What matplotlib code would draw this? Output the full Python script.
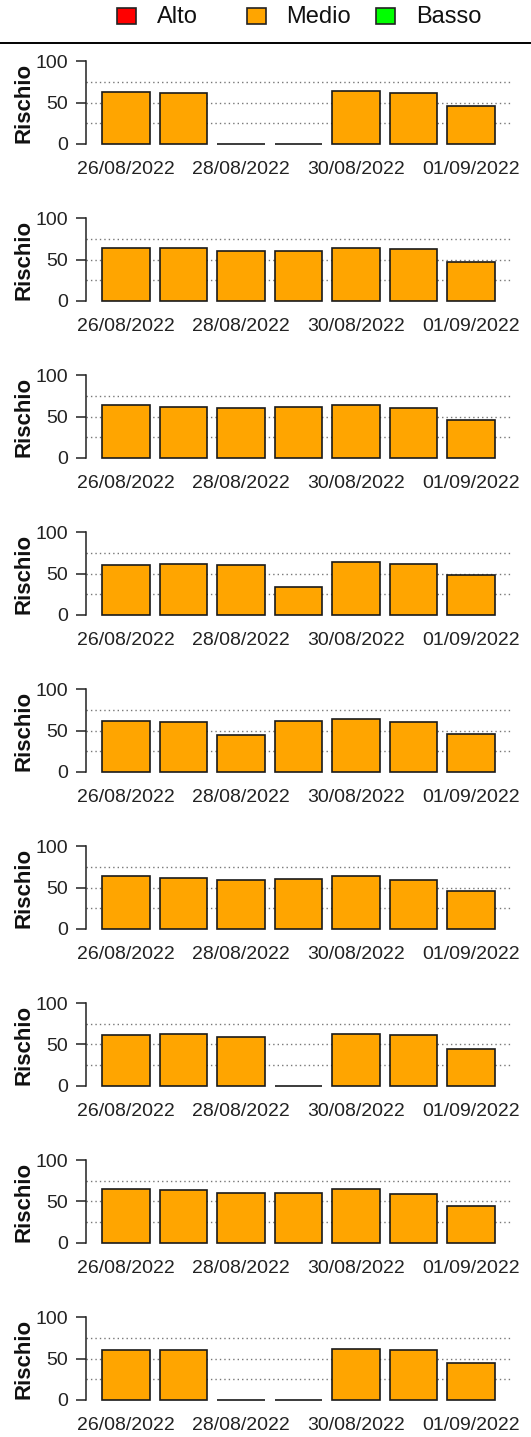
import numpy as np
import matplotlib
matplotlib.use('Agg')
import matplotlib.pyplot as plt
from matplotlib.patches import Rectangle

plt.rcParams['font.family'] = ['Liberation Sans', 'DejaVu Sans']

# Dates on the x axis (R drops every other label because they overlap)
dates = ['26/08/2022', '27/08/2022', '28/08/2022', '29/08/2022',
         '30/08/2022', '31/08/2022', '01/09/2022']

# Risk values, one list per panel
p1 = [62.7, 61.0, 0, 0, 64.3, 61.0, 46.2]
p2 = [64.4, 64.4, 60.0, 60.0, 64.4, 62.8, 46.6]
p3 = [63.6, 62.0, 60.4, 62.0, 63.6, 60.4, 46.0]
p4 = [60.4, 62.0, 60.4, 34.0, 63.6, 62.0, 47.6]
p5 = [62.0, 60.4, 44.0, 62.0, 63.6, 60.4, 45.6]
p6 = [63.6, 62.0, 59.2, 60.4, 63.6, 59.2, 46.0]
p7 = [61.2, 62.4, 59.6, 0, 62.4, 61.2, 44.8]
p8 = [64.8, 63.6, 60.4, 60.4, 64.8, 58.8, 44.4]
p9 = [60.8, 60.8, 0, 0, 62.0, 60.8, 44.4]
panels = [p1, p2, p3, p4, p5, p6, p7, p8, p9]

legend_labels = ['Alto', 'Medio', 'Basso']
legend_colors = ['#FF0000', '#FFA500', '#00FF00']

W, H = 531, 1437
fig = plt.figure(figsize=(W / 100, H / 100), dpi=100)

# legend strip at the top
lax = fig.add_axes([0, 1 - 44 / H, 1, 44 / H])
lax.set_xlim(0, W)
lax.set_ylim(44, 0)
lax.axis('off')
for i, (lab, col) in enumerate(zip(legend_labels, legend_colors)):
    x0 = 117 + 129.5 * i
    lax.add_patch(Rectangle((x0, 8), 19, 16, facecolor=col, edgecolor='#222222', lw=1.2))
    lax.text(x0 + 40, 17, lab, fontsize=17, va='center', ha='left', color='#111111')
lax.axhline(43.3, color='black', lw=1.4, clip_on=False)

x = np.arange(len(dates))
bw = 1 / 1.2
pad = 0.04 * (len(dates) - 1 + bw)

for k, vals in enumerate(panels):
    top = 57.7 + 157 * k
    h = 89.6
    ax = fig.add_axes([86.3 / W, 1 - (top + h) / H, 424.4 / W, h / H])
    for g in [25, 50, 75]:
        ax.axhline(g, color='#777777', lw=1, linestyle=(0, (1, 2.2)), zorder=0)
    ax.bar(x, vals, width=bw, color='#FFA500', edgecolor='#1a1a1a', lw=1.2, zorder=2)
    ax.set_xlim(-bw / 2 - pad, len(dates) - 1 + bw / 2 + pad)
    ax.set_ylim(-4, 104)
    for s in ['top', 'right', 'bottom']:
        ax.spines[s].set_visible(False)
    ax.spines['left'].set_bounds(0, 100)
    ax.spines['left'].set_color('#222222')
    ax.spines['left'].set_linewidth(1.1)
    ax.set_yticks([0, 50, 100])
    ax.tick_params(axis='y', length=7, width=1.1, pad=6, labelsize=14,
                   colors='#222222')
    ax.set_xticks(x[::2])
    ax.set_xticklabels(dates[::2])
    ax.tick_params(axis='x', length=0, pad=10, labelsize=14, colors='#222222')
    ax.set_ylabel('Rischio', fontsize=16, fontweight='bold', color='#111111')
    ax.yaxis.set_label_coords(-0.147, 0.5)
    ax.yaxis.label.set_va('center')

fig.savefig('out.png', dpi=100)
